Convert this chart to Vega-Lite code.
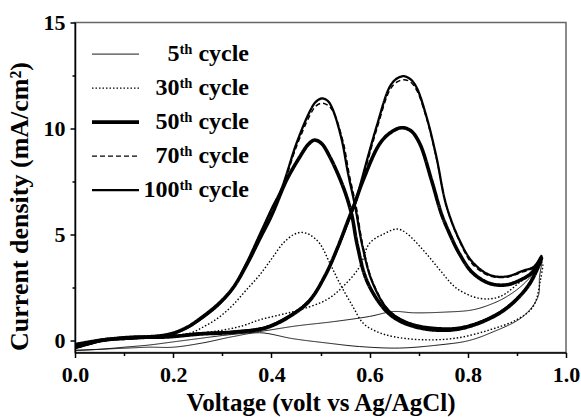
{
  "$schema": "https://vega.github.io/schema/vega-lite/v6.json",
  "width": 491,
  "height": 330,
  "autosize": {"type": "none"},
  "padding": {"left": 75, "top": 22.5, "right": 15, "bottom": 64.5},
  "background": "white",
  "config": {
    "view": {"stroke": "#666", "strokeWidth": 1.5},
    "font": "Liberation Serif"
  },
  "data": {"values": [
    {"c":"100","v":0,"j":-0.35},{"c":"100","v":0.03,"j":-0.15},{"c":"100","v":0.06,"j":0.02},{"c":"100","v":0.125,"j":0.12},{"c":"100","v":0.19,"j":0.28},{"c":"100","v":0.227,"j":0.6},{"c":"100","v":0.261,"j":1.1},{"c":"100","v":0.295,"j":1.75},{"c":"100","v":0.322,"j":2.5},{"c":"100","v":0.35,"j":3.7},{"c":"100","v":0.376,"j":5.0},{"c":"100","v":0.4,"j":6.2},{"c":"100","v":0.421,"j":7.2},{"c":"100","v":0.451,"j":9.3},{"c":"100","v":0.478,"j":10.8},{"c":"100","v":0.49,"j":11.25},{"c":"100","v":0.503,"j":11.42},{"c":"100","v":0.515,"j":11.3},{"c":"100","v":0.525,"j":10.9},{"c":"100","v":0.543,"j":9.5},{"c":"100","v":0.556,"j":7.9},{"c":"100","v":0.57,"j":6.4},{"c":"100","v":0.586,"j":4.4},{"c":"100","v":0.605,"j":2.8},{"c":"100","v":0.636,"j":1.5},{"c":"100","v":0.665,"j":1.0},{"c":"100","v":0.7,"j":0.72},{"c":"100","v":0.74,"j":0.6},{"c":"100","v":0.78,"j":0.62},{"c":"100","v":0.83,"j":0.95},{"c":"100","v":0.88,"j":1.6},{"c":"100","v":0.925,"j":2.7},{"c":"100","v":0.95,"j":4.0},
    {"c":"100","v":0.935,"j":3.5},{"c":"100","v":0.912,"j":3.3},{"c":"100","v":0.879,"j":3.03},{"c":"100","v":0.845,"j":3.1},{"c":"100","v":0.81,"j":3.7},{"c":"100","v":0.783,"j":4.75},{"c":"100","v":0.756,"j":6.4},{"c":"100","v":0.736,"j":8.67},{"c":"100","v":0.716,"j":10.55},{"c":"100","v":0.695,"j":11.97},{"c":"100","v":0.682,"j":12.35},{"c":"100","v":0.669,"j":12.47},{"c":"100","v":0.655,"j":12.35},{"c":"100","v":0.641,"j":11.97},{"c":"100","v":0.614,"j":10.08},{"c":"100","v":0.58,"j":7.26},{"c":"100","v":0.573,"j":6.64},{"c":"100","v":0.56,"j":5.85},{"c":"100","v":0.539,"j":4.6},{"c":"100","v":0.512,"j":3.19},{"c":"100","v":0.478,"j":1.93},{"c":"100","v":0.444,"j":1.3},{"c":"100","v":0.39,"j":0.67},{"c":"100","v":0.322,"j":0.44},{"c":"100","v":0.254,"j":0.36},{"c":"100","v":0.186,"j":0.2},{"c":"100","v":0.118,"j":0.2},{"c":"100","v":0.05,"j":0.05},{"c":"100","v":0,"j":-0.15},

    {"c":"70","v":0,"j":-0.3},{"c":"70","v":0.03,"j":-0.12},{"c":"70","v":0.06,"j":0.03},{"c":"70","v":0.125,"j":0.13},{"c":"70","v":0.19,"j":0.28},{"c":"70","v":0.227,"j":0.6},{"c":"70","v":0.261,"j":1.12},{"c":"70","v":0.295,"j":1.78},{"c":"70","v":0.322,"j":2.5},{"c":"70","v":0.35,"j":3.7},{"c":"70","v":0.376,"j":4.95},{"c":"70","v":0.4,"j":6.1},{"c":"70","v":0.421,"j":7.1},{"c":"70","v":0.451,"j":9.15},{"c":"70","v":0.478,"j":10.6},{"c":"70","v":0.49,"j":11.05},{"c":"70","v":0.503,"j":11.2},{"c":"70","v":0.516,"j":11.08},{"c":"70","v":0.527,"j":10.75},{"c":"70","v":0.546,"j":9.4},{"c":"70","v":0.559,"j":7.8},{"c":"70","v":0.573,"j":6.3},{"c":"70","v":0.587,"j":4.4},{"c":"70","v":0.606,"j":2.8},{"c":"70","v":0.637,"j":1.5},{"c":"70","v":0.665,"j":1.0},{"c":"70","v":0.7,"j":0.7},{"c":"70","v":0.74,"j":0.58},{"c":"70","v":0.78,"j":0.6},{"c":"70","v":0.83,"j":0.93},{"c":"70","v":0.88,"j":1.58},{"c":"70","v":0.925,"j":2.68},{"c":"70","v":0.95,"j":3.95},
    {"c":"70","v":0.935,"j":3.45},{"c":"70","v":0.912,"j":3.25},{"c":"70","v":0.879,"j":3.0},{"c":"70","v":0.845,"j":3.05},{"c":"70","v":0.81,"j":3.6},{"c":"70","v":0.783,"j":4.7},{"c":"70","v":0.757,"j":6.3},{"c":"70","v":0.737,"j":8.5},{"c":"70","v":0.717,"j":10.4},{"c":"70","v":0.696,"j":11.8},{"c":"70","v":0.683,"j":12.2},{"c":"70","v":0.669,"j":12.3},{"c":"70","v":0.656,"j":12.2},{"c":"70","v":0.642,"j":11.85},{"c":"70","v":0.615,"j":10.0},{"c":"70","v":0.581,"j":7.2},{"c":"70","v":0.573,"j":6.6},{"c":"70","v":0.56,"j":5.8},{"c":"70","v":0.539,"j":4.55},{"c":"70","v":0.512,"j":3.15},{"c":"70","v":0.478,"j":1.9},{"c":"70","v":0.444,"j":1.28},{"c":"70","v":0.39,"j":0.65},{"c":"70","v":0.322,"j":0.43},{"c":"70","v":0.254,"j":0.35},{"c":"70","v":0.186,"j":0.2},{"c":"70","v":0.118,"j":0.18},{"c":"70","v":0.05,"j":0.03},{"c":"70","v":0,"j":-0.2},

    {"c":"50","v":0,"j":-0.3},{"c":"50","v":0.03,"j":-0.1},{"c":"50","v":0.06,"j":0.05},{"c":"50","v":0.125,"j":0.15},{"c":"50","v":0.19,"j":0.3},{"c":"50","v":0.227,"j":0.62},{"c":"50","v":0.261,"j":1.15},{"c":"50","v":0.295,"j":1.8},{"c":"50","v":0.322,"j":2.5},{"c":"50","v":0.35,"j":3.6},{"c":"50","v":0.376,"j":4.8},{"c":"50","v":0.4,"j":5.9},{"c":"50","v":0.431,"j":7.58},{"c":"50","v":0.458,"j":8.67},{"c":"50","v":0.475,"j":9.25},{"c":"50","v":0.488,"j":9.46},{"c":"50","v":0.502,"j":9.3},{"c":"50","v":0.519,"j":8.67},{"c":"50","v":0.546,"j":7.26},{"c":"50","v":0.563,"j":6.0},{"c":"50","v":0.575,"j":4.5},{"c":"50","v":0.595,"j":2.8},{"c":"50","v":0.63,"j":1.5},{"c":"50","v":0.66,"j":0.95},{"c":"50","v":0.7,"j":0.62},{"c":"50","v":0.74,"j":0.5},{"c":"50","v":0.78,"j":0.55},{"c":"50","v":0.83,"j":0.9},{"c":"50","v":0.88,"j":1.55},{"c":"50","v":0.925,"j":2.65},{"c":"50","v":0.95,"j":3.9},
    {"c":"50","v":0.93,"j":3.2},{"c":"50","v":0.91,"j":2.9},{"c":"50","v":0.879,"j":2.64},{"c":"50","v":0.845,"j":2.7},{"c":"50","v":0.81,"j":3.2},{"c":"50","v":0.783,"j":4.1},{"c":"50","v":0.76,"j":5.2},{"c":"50","v":0.746,"j":6.0},{"c":"50","v":0.726,"j":7.58},{"c":"50","v":0.702,"j":9.3},{"c":"50","v":0.684,"j":9.9},{"c":"50","v":0.665,"j":10.04},{"c":"50","v":0.645,"j":9.85},{"c":"50","v":0.621,"j":9.3},{"c":"50","v":0.587,"j":7.58},{"c":"50","v":0.57,"j":6.5},{"c":"50","v":0.555,"j":5.6},{"c":"50","v":0.535,"j":4.4},{"c":"50","v":0.51,"j":3.1},{"c":"50","v":0.478,"j":1.9},{"c":"50","v":0.444,"j":1.25},{"c":"50","v":0.39,"j":0.62},{"c":"50","v":0.322,"j":0.4},{"c":"50","v":0.254,"j":0.32},{"c":"50","v":0.186,"j":0.18},{"c":"50","v":0.118,"j":0.15},{"c":"50","v":0.05,"j":0.0},{"c":"50","v":0,"j":-0.3},

    {"c":"30","v":0,"j":-0.35},{"c":"30","v":0.03,"j":-0.15},{"c":"30","v":0.06,"j":0.0},{"c":"30","v":0.125,"j":0.12},{"c":"30","v":0.19,"j":0.25},{"c":"30","v":0.234,"j":0.36},{"c":"30","v":0.265,"j":0.7},{"c":"30","v":0.295,"j":1.14},{"c":"30","v":0.322,"j":1.7},{"c":"30","v":0.349,"j":2.4},{"c":"30","v":0.376,"j":3.1},{"c":"30","v":0.4,"j":3.85},{"c":"30","v":0.424,"j":4.6},{"c":"30","v":0.445,"j":5.0},{"c":"30","v":0.461,"j":5.11},{"c":"30","v":0.478,"j":5.0},{"c":"30","v":0.498,"j":4.6},{"c":"30","v":0.519,"j":3.66},{"c":"30","v":0.539,"j":2.72},{"c":"30","v":0.566,"j":1.61},{"c":"30","v":0.587,"j":0.83},{"c":"30","v":0.614,"j":0.44},{"c":"30","v":0.648,"j":0.2},{"c":"30","v":0.709,"j":0.05},{"c":"30","v":0.777,"j":0.13},{"c":"30","v":0.845,"j":0.52},{"c":"30","v":0.899,"j":0.99},{"c":"30","v":0.933,"j":1.61},{"c":"30","v":0.948,"j":2.87},{"c":"30","v":0.952,"j":3.7},
    {"c":"30","v":0.935,"j":3.2},{"c":"30","v":0.912,"j":2.87},{"c":"30","v":0.865,"j":2.08},{"c":"30","v":0.824,"j":2.0},{"c":"30","v":0.777,"j":2.48},{"c":"30","v":0.743,"j":3.34},{"c":"30","v":0.709,"j":4.28},{"c":"30","v":0.675,"j":5.07},{"c":"30","v":0.656,"j":5.27},{"c":"30","v":0.63,"j":5.05},{"c":"30","v":0.6,"j":4.6},{"c":"30","v":0.58,"j":3.5},{"c":"30","v":0.546,"j":2.56},{"c":"30","v":0.512,"j":1.93},{"c":"30","v":0.458,"j":1.46},{"c":"30","v":0.417,"j":1.22},{"c":"30","v":0.376,"j":0.99},{"c":"30","v":0.34,"j":0.7},{"c":"30","v":0.3,"j":0.5},{"c":"30","v":0.254,"j":0.36},{"c":"30","v":0.186,"j":0.2},{"c":"30","v":0.118,"j":0.15},{"c":"30","v":0.05,"j":0.0},{"c":"30","v":0,"j":-0.25},

    {"c":"5","v":0,"j":-0.45},{"c":"5","v":0.05,"j":-0.4},{"c":"5","v":0.1,"j":-0.3},{"c":"5","v":0.15,"j":-0.2},{"c":"5","v":0.2,"j":-0.05},{"c":"5","v":0.25,"j":0.1},{"c":"5","v":0.3,"j":0.25},{"c":"5","v":0.376,"j":0.44},{"c":"5","v":0.45,"j":0.7},{"c":"5","v":0.525,"j":0.9},{"c":"5","v":0.6,"j":1.15},{"c":"5","v":0.648,"j":1.38},{"c":"5","v":0.69,"j":1.32},{"c":"5","v":0.75,"j":1.35},{"c":"5","v":0.81,"j":1.46},{"c":"5","v":0.85,"j":1.75},{"c":"5","v":0.879,"j":2.08},{"c":"5","v":0.91,"j":2.6},{"c":"5","v":0.94,"j":3.34},{"c":"5","v":0.95,"j":3.7},
    {"c":"5","v":0.946,"j":3.0},{"c":"5","v":0.943,"j":2.08},{"c":"5","v":0.912,"j":1.14},{"c":"5","v":0.845,"j":0.36},{"c":"5","v":0.8,"j":0.0},{"c":"5","v":0.743,"j":-0.19},{"c":"5","v":0.661,"j":-0.34},{"c":"5","v":0.58,"j":-0.27},{"c":"5","v":0.512,"j":-0.1},{"c":"5","v":0.444,"j":0.1},{"c":"5","v":0.376,"j":0.38},{"c":"5","v":0.322,"j":0.2},{"c":"5","v":0.26,"j":-0.1},{"c":"5","v":0.2,"j":-0.3},{"c":"5","v":0.15,"j":-0.3},{"c":"5","v":0.1,"j":-0.35},{"c":"5","v":0.05,"j":-0.4},{"c":"5","v":0,"j":-0.45}
  ]},
  "mark": {"type": "line", "color": "black", "clip": true, "interpolate": "catmull-rom"},
  "encoding": {
    "x": {
      "field": "v", "type": "quantitative",
      "scale": {"domain": [0, 1], "nice": false, "zero": false},
      "axis": {
        "title": "Voltage (volt vs Ag/AgCl)",
        "values": [0, 0.1, 0.2, 0.3, 0.4, 0.5, 0.6, 0.7, 0.8, 0.9, 1.0],
        "labelExpr": "indexof([0.1,0.3,0.5,0.7,0.9], datum.value) >= 0 ? '' : format(datum.value, '.1f')",
        "grid": false,
        "domainColor": "black", "domainWidth": 1.5,
        "tickColor": "black", "tickWidth": 1.5,
        "tickSize": {"condition": {"test": "indexof([0.1,0.3,0.5,0.7,0.9], datum.value) >= 0", "value": 3}, "value": 5},
        "labelFont": "Liberation Serif", "labelFontWeight": "bold", "labelFontSize": 22, "labelColor": "black",
        "labelBaseline": "alphabetic", "labelPadding": 24, "labelFlush": false, "labelOverlap": false,
        "titleFont": "Liberation Serif", "titleFontWeight": "bold", "titleFontSize": 25, "titleColor": "black",
        "titleBaseline": "alphabetic", "titleX": 245.5, "titleY": 58, "titleAlign": "center"
      }
    },
    "y": {
      "field": "j", "type": "quantitative",
      "scale": {"domain": [-0.55, 15], "nice": false, "zero": false},
      "axis": {
        "title": "Current density (mA/cm²)",
        "values": [0, 2.5, 5, 7.5, 10, 12.5, 15],
        "labelExpr": "indexof([2.5,7.5,12.5], datum.value) >= 0 ? '' : format(datum.value, 'd')",
        "grid": false,
        "domainColor": "black", "domainWidth": 1.5,
        "tickColor": "black", "tickWidth": 1.5,
        "tickSize": {"condition": {"test": "indexof([2.5,7.5,12.5], datum.value) >= 0", "value": 3}, "value": 5},
        "labelFont": "Liberation Serif", "labelFontWeight": "bold", "labelFontSize": 22, "labelColor": "black",
        "labelPadding": 5, "labelFlush": false, "labelOverlap": false,
        "titleFont": "Liberation Serif", "titleFontWeight": "bold", "titleFontSize": 26, "titleColor": "black",
        "titleAngle": -90, "titleBaseline": "alphabetic", "titleX": -48, "titleY": 183.5, "titleAlign": "center"
      }
    },
    "strokeDash": {
      "field": "c", "type": "ordinal",
      "scale": {"type": "ordinal", "domain": ["5", "30", "50", "70", "100"], "range": [[1, 0], [1.5, 2], [1, 0], [5, 3], [1, 0]]},
      "legend": {
        "title": null, "orient": "none", "legendX": 15, "legendY": 14.6, "padding": 0,
        "symbolType": "stroke", "symbolSize": 2209, "symbolStrokeColor": "black",
        "clipHeight": 34, "rowPadding": 0,
        "labelExpr": "datum.label + 'ᵗʰ cycle'",
        "labelFont": "Liberation Serif", "labelFontWeight": "bold", "labelFontSize": 24, "labelColor": "black",
        "labelAlign": "right", "labelOffset": 108, "labelLimit": 300
      }
    },
    "strokeWidth": {
      "field": "c", "type": "ordinal",
      "scale": {"type": "ordinal", "domain": ["5", "30", "50", "70", "100"], "range": [0.9, 1.4, 3.6, 1.4, 2.3]},
      "legend": {
        "title": null, "orient": "none", "legendX": 15, "legendY": 14.6, "padding": 0,
        "symbolType": "stroke", "symbolSize": 2209, "symbolStrokeColor": "black",
        "clipHeight": 34, "rowPadding": 0,
        "labelExpr": "datum.label + 'ᵗʰ cycle'",
        "labelFont": "Liberation Serif", "labelFontWeight": "bold", "labelFontSize": 24, "labelColor": "black",
        "labelAlign": "right", "labelOffset": 108, "labelLimit": 300
      }
    },
    "order": {"value": null}
  }
}
